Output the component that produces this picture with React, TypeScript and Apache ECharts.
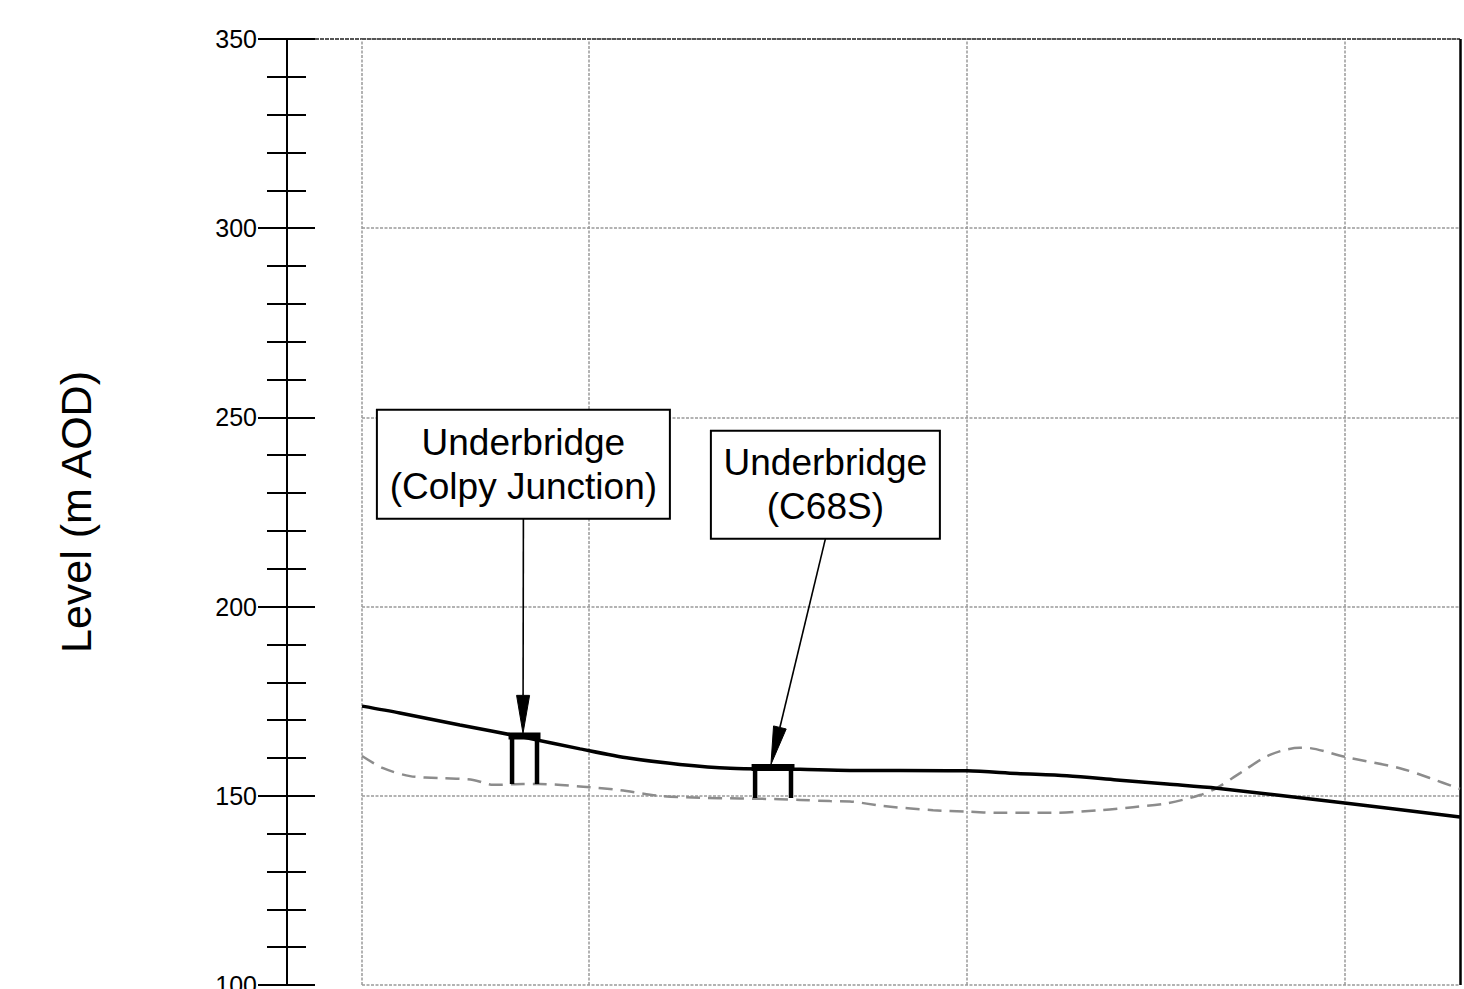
import React, { useEffect, useRef } from "react";
import * as echarts from "echarts";

// Chainage (m) of the plotted extent and vertical grid lines
const xMin = 0;
const xMax = 2905;
const verticalGrid = [0, 600, 1600, 2600];

// Level axis
const yMin = 100;
const yMax = 350;
const yInterval = 50;

// Proposed track level (m AOD)
const trackChainage = [0, 100, 259, 426, 577, 709, 841, 974, 1159, 1291, 1423, 1601, 1733, 1865, 1997, 2130, 2262, 2600, 2905];
const trackLevel = [173.7, 171.9, 168.7, 165.5, 162.4, 159.9, 158.3, 157.3, 157.0, 156.7, 156.7, 156.6, 155.9, 155.3, 154.2, 153.1, 152.0, 148.1, 144.4];

// Existing ground level (m AOD)
const groundChainage = [0, 56, 127, 206, 294, 347, 426, 471, 585, 683, 788, 894, 1000, 1106, 1159, 1238, 1291, 1378, 1511, 1601, 1688, 1820, 1952, 2040, 2130, 2217, 2262, 2323, 2402, 2481, 2508, 2600, 2746, 2825, 2905];
const groundLevel = [160.5, 157.3, 155.2, 154.7, 154.2, 152.9, 153.1, 153.1, 152.4, 151.5, 150.0, 149.5, 149.3, 149.1, 148.9, 148.6, 148.5, 147.3, 146.2, 145.8, 145.5, 145.5, 146.2, 147.0, 148.0, 150.2, 152.1, 156.0, 160.8, 162.7, 162.6, 160.3, 157.3, 154.7, 151.8];

// Underbridges: start / end chainage, deck level, foot level
const bridgeStart = [397, 1040];
const bridgeEnd = [463, 1135];
const bridgeDeck = [165.8, 157.5];
const bridgeFoot = [153.1, 149.4];

// Annotations
const annotationLines = [
  ["Underbridge", "(Colpy Junction)"],
  ["Underbridge", "(C68S)"],
];
const annotationAnchorX = [427, 1226];
const annotationAnchorY = [223.2, 217.9];
const annotationTipX = [426, 1082];
const annotationTipY = [166.5, 158.3];
const annotationBoxW = [293, 229];
const annotationBoxH = [109, 108];

const FONT = '"Liberation Sans", Arial, sans-serif';

export default function App() {
  const ref = useRef<HTMLDivElement>(null);

  useEffect(() => {
    if (!ref.current) return;
    const chart = echarts.init(ref.current, null, { renderer: "svg" });

    const track = trackChainage.map((x, i) => [x, trackLevel[i]]);
    const ground = groundChainage.map((x, i) => [x, groundLevel[i]]);

    const bridgeLegSeries = bridgeStart.map((s, i) => ({
      type: "line",
      data: [
        [s, bridgeFoot[i]],
        [s, bridgeDeck[i]],
        [bridgeEnd[i], bridgeDeck[i]],
        [bridgeEnd[i], bridgeFoot[i]],
      ],
      symbol: "none",
      lineStyle: { color: "#000", width: 4.5, join: "miter", cap: "butt" },
      z: 5,
      silent: true,
    }));
    const bridgeDeckSeries = bridgeStart.map((s, i) => ({
      type: "line",
      data: [
        [s, bridgeDeck[i]],
        [bridgeEnd[i], bridgeDeck[i]],
      ],
      symbol: "none",
      lineStyle: { color: "#000", width: 7, cap: "square" },
      z: 5,
      silent: true,
    }));

    const annData = annotationAnchorX.map((x, i) => [x, annotationAnchorY[i], annotationTipX[i], annotationTipY[i]]);

    const option: any = {
      animation: false,
      backgroundColor: "#fff",
      grid: { left: 362, top: 39, width: 1098, height: 946, containLabel: false, outerBoundsMode: "none" },
      xAxis: { type: "value", min: xMin, max: xMax, show: false },
      yAxis: [
        {
          type: "value",
          min: yMin,
          max: yMax,
          interval: yInterval,
          position: "left",
          offset: 75,
          name: "Level (m AOD)",
          nameLocation: "middle",
          nameRotate: 90,
          nameGap: 190,
          nameTextStyle: { fontSize: 43, fontFamily: FONT, color: "#000" },
          axisLine: { show: true, onZero: false, lineStyle: { color: "#000", width: 2 } },
          axisTick: { show: true, inside: false, length: 29, lineStyle: { color: "#000", width: 2 } },
          minorTick: { show: true, splitNumber: 5, length: 20, lineStyle: { color: "#000", width: 2 } },
          axisLabel: { fontSize: 25, fontFamily: FONT, color: "#000", margin: 30 },
          splitLine: { show: true, lineStyle: { color: "#9a9a9a", width: 1.5, type: [3, 1.5] } },
          minorSplitLine: { show: false },
        },
        {
          type: "value",
          min: yMin,
          max: yMax,
          interval: yInterval,
          position: "left",
          offset: 75,
          axisLine: { show: false, onZero: false },
          axisTick: { show: true, inside: true, length: 28, lineStyle: { color: "#000", width: 2 } },
          minorTick: { show: true, splitNumber: 5, length: 19, lineStyle: { color: "#000", width: 2 } },
          axisLabel: { show: false },
          splitLine: { show: false },
        },
      ],
      series: [
        {
          type: "line",
          name: "Ground",
          data: ground,
          symbol: "none",
          smooth: 0.3,
          lineStyle: { color: "#8c8c8c", width: 2.5, type: [14, 8] },
          z: 3,
          silent: true,
          markLine: {
            silent: true,
            symbol: "none",
            label: { show: false },
            lineStyle: { color: "#9a9a9a", width: 1.5, type: [3, 1.5] },
            data: [
              ...verticalGrid.map((v) => ({ xAxis: v })),
              { yAxis: yMax, lineStyle: { color: "#555", width: 2, type: [4, 1] } },
              { xAxis: xMax, lineStyle: { color: "#000", width: 2.5, type: "solid" } },
            ],
            z: 1,
          },
        },
        {
          type: "line",
          name: "Track",
          data: track,
          symbol: "none",
          smooth: 0.3,
          lineStyle: { color: "#000", width: 3.5 },
          z: 4,
          silent: true,
        },
        ...bridgeLegSeries,
        ...bridgeDeckSeries,
        {
          type: "custom",
          name: "Annotations",
          data: annData,
          clip: false,
          z: 10,
          silent: true,
          renderItem: (params: any, api: any) => {
            const i = params.dataIndex;
            const anchor = api.coord([api.value(0), api.value(1)]);
            const tip = api.coord([api.value(2), api.value(3)]);
            const w = annotationBoxW[i];
            const h = annotationBoxH[i];
            const bx = anchor[0] - w / 2;
            const by = anchor[1] - h;
            const dx = tip[0] - anchor[0];
            const dy = tip[1] - anchor[1];
            const len = Math.sqrt(dx * dx + dy * dy);
            const ux = dx / len;
            const uy = dy / len;
            const headL = 38;
            const headW = 13;
            const base = [tip[0] - ux * headL, tip[1] - uy * headL];
            const px = -uy;
            const py = ux;
            return {
              type: "group",
              children: [
                {
                  type: "line",
                  shape: { x1: anchor[0], y1: anchor[1], x2: base[0], y2: base[1] },
                  style: { stroke: "#000", lineWidth: 1.6 },
                },
                {
                  type: "polygon",
                  shape: {
                    points: [
                      [tip[0], tip[1]],
                      [base[0] + (px * headW) / 2, base[1] + (py * headW) / 2],
                      [base[0] - (px * headW) / 2, base[1] - (py * headW) / 2],
                    ],
                  },
                  style: { fill: "#000", stroke: "#000", lineWidth: 1 },
                },
                {
                  type: "rect",
                  shape: { x: bx, y: by, width: w, height: h },
                  style: { fill: "#fff", stroke: "#000", lineWidth: 2 },
                },
                {
                  type: "text",
                  style: {
                    text: annotationLines[i].join("\n"),
                    x: anchor[0],
                    y: by + h / 2,
                    align: "center",
                    verticalAlign: "middle",
                    fontSize: 37,
                    fontFamily: FONT,
                    lineHeight: 44,
                    fill: "#000",
                  },
                },
              ],
            };
          },
        },
      ],
    };

    chart.setOption(option);

    // Frame line continuing the top border left towards the level axis
    const topY = chart.convertToPixel({ yAxisIndex: 0 }, yMax) as number;
    const leftX = chart.convertToPixel({ xAxisIndex: 0 }, xMin) as number;
    chart.setOption({
      graphic: [
        {
          type: "line",
          silent: true,
          shape: { x1: leftX - 47, y1: topY, x2: leftX, y2: topY },
          style: { stroke: "#555", lineWidth: 2, lineDash: [4, 1] },
        },
      ],
    });

    return () => chart.dispose();
  }, []);

  return <div ref={ref} style={{ position: "fixed", left: 0, top: 0, width: 1464, height: 989 }} />;
}
